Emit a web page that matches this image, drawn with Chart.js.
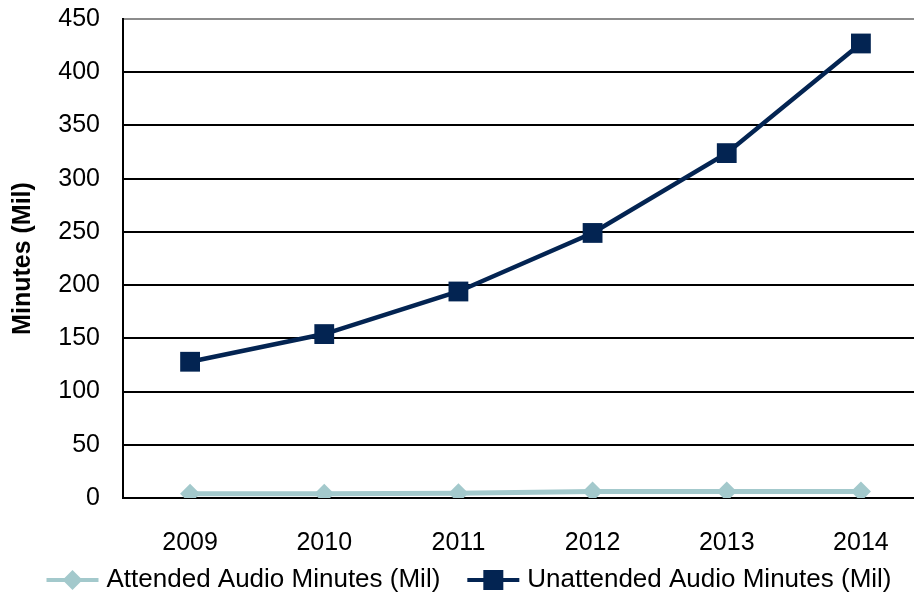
<!DOCTYPE html>
<html>
<head>
<meta charset="utf-8">
<script src="https://cdn.jsdelivr.net/npm/chart.js@4"></script>
<style>
  html, body { margin: 0; padding: 0; background: #fff; overflow: hidden; }
  #wrap { width: 914px; height: 596px; overflow: hidden; }
  #audioChart { display: block; }
</style>
</head>
<body>
<!-- the plot runs a little past the right edge, so the canvas is wider than the frame -->
<div id="wrap"><canvas id="audioChart" width="928" height="596"></canvas></div>
<script>
const years = ['2009', '2010', '2011', '2012', '2013', '2014'];
const attendedMinutes = [4, 4, 4.5, 6, 6, 6];
const unattendedMinutes = [128, 154, 194, 249, 324, 427];

const colors = {
    navy: 'rgb(3, 36, 82)',
    teal: 'rgb(163, 201, 204)',
    grid: '#000',
    topGrid: '#8c8c8c'
};
const fontFamily = 'Liberation Sans, Arial, sans-serif';

// line-with-marker legend drawn along the bottom edge
const bottomLegend = {
    id: 'bottomLegend',
    afterDraw(chart) {
        const ctx = chart.ctx;
        const y = 580;
        const iconW = 52, iconGap = 8, itemGap = 27;
        ctx.save();
        ctx.font = '26px ' + fontFamily;
        ctx.textBaseline = 'middle';
        ctx.textAlign = 'left';
        const items = chart.data.datasets.map(ds => ({
            ds,
            w: iconW + iconGap + ctx.measureText(ds.label).width
        }));
        const total = items.reduce((s, it) => s + it.w, 0) + itemGap * (items.length - 1);
        let x = 469 - total / 2;
        items.forEach(({ ds, w }) => {
            const cx = x + iconW / 2;
            ctx.strokeStyle = ds.borderColor;
            ctx.fillStyle = ds.borderColor;
            ctx.lineWidth = 4;
            ctx.beginPath();
            ctx.moveTo(x, y);
            ctx.lineTo(x + iconW, y);
            ctx.stroke();
            ctx.beginPath();
            if (ds.pointStyle === 'rectRot') {
                ctx.moveTo(cx, y - 10);
                ctx.lineTo(cx + 10, y);
                ctx.lineTo(cx, y + 10);
                ctx.lineTo(cx - 10, y);
                ctx.closePath();
            } else {
                ctx.rect(cx - 10, y - 10, 20, 20);
            }
            ctx.fill();
            ctx.fillStyle = '#000';
            ctx.fillText(ds.label, x + iconW + iconGap, y);
            x += w + itemGap;
        });
        ctx.restore();
    }
};

new Chart(document.getElementById('audioChart'), {
    type: 'line',
    data: {
        labels: years,
        datasets: [
            {
                label: 'Attended Audio Minutes (Mil)',
                data: attendedMinutes,
                borderColor: colors.teal,
                backgroundColor: colors.teal,
                borderWidth: 5,
                pointStyle: 'rectRot',
                pointRadius: 10,
                pointHoverRadius: 10,
                pointBorderWidth: 0,
                tension: 0
            },
            {
                label: 'Unattended Audio Minutes (Mil)',
                data: unattendedMinutes,
                borderColor: colors.navy,
                backgroundColor: colors.navy,
                borderWidth: 4.5,
                pointStyle: 'rect',
                pointRadius: 14,
                pointHoverRadius: 14,
                pointBorderWidth: 0,
                tension: 0
            }
        ]
    },
    options: {
        responsive: false,
        animation: false,
        layout: { autoPadding: false, padding: { top: 19, right: 0, left: 0, bottom: 32 } },
        plugins: {
            tooltip: { enabled: false },
            legend: { display: false }
        },
        scales: {
            x: {
                offset: true,
                grid: { display: false, drawTicks: false },
                border: { display: true, color: '#000', width: 2 },
                ticks: {
                    color: '#000',
                    padding: 30,
                    font: { family: fontFamily, size: 25 }
                },
                afterFit(scale) { scale.height = 66; }
            },
            y: {
                min: 0,
                max: 450,
                grid: {
                    drawTicks: false,
                    lineWidth: 2,
                    color: ctx => ctx.tick && ctx.tick.value === 450 ? colors.topGrid : colors.grid
                },
                border: { display: true, color: '#000', width: 2 },
                ticks: {
                    stepSize: 50,
                    color: '#000',
                    padding: 23,
                    font: { family: fontFamily, size: 25 }
                },
                title: {
                    display: true,
                    text: 'Minutes (Mil)',
                    color: '#000',
                    padding: { top: 8, bottom: 0 },
                    font: { family: fontFamily, size: 25, weight: 'bold' }
                },
                afterFit(scale) {
                    scale.width = 123;
                    scale.paddingTop = 0;
                    scale.paddingBottom = 0;
                }
            }
        }
    },
    plugins: [bottomLegend]
});
</script>
</body>
</html>
